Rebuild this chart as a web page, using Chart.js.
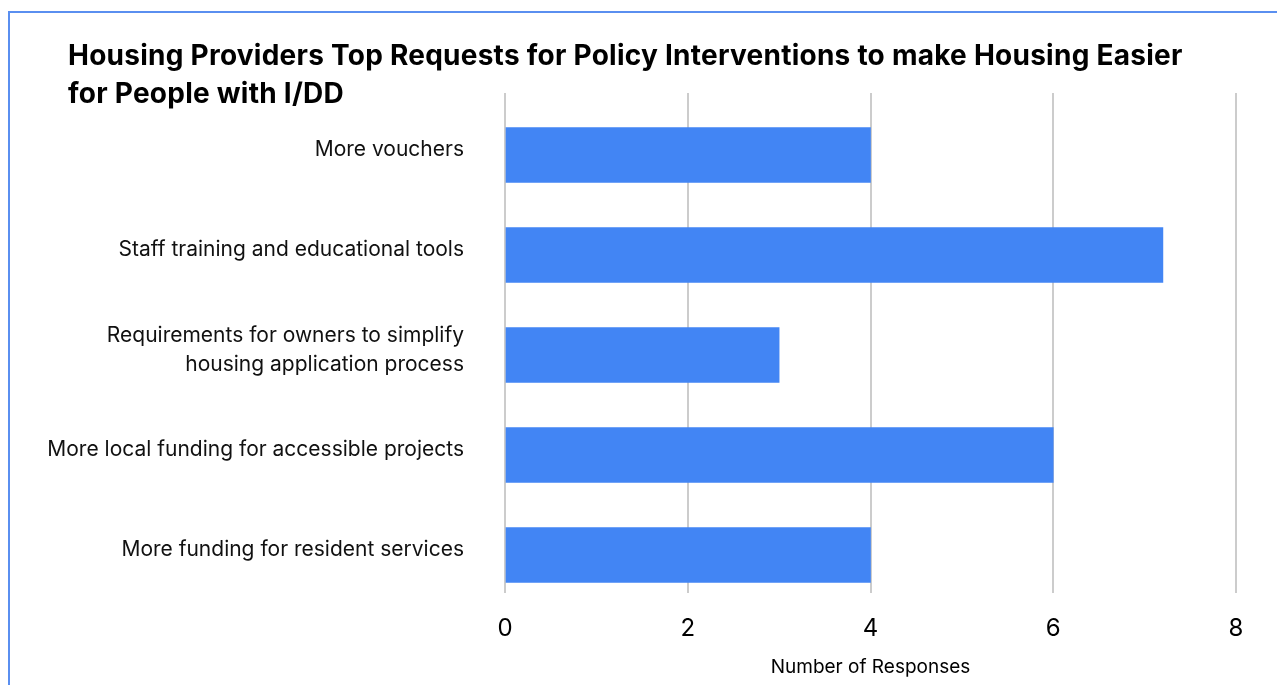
<!DOCTYPE html>
<html>
<head>
<meta charset="utf-8">
<script src="https://cdn.jsdelivr.net/npm/chart.js@4/dist/chart.umd.min.js"></script>
<style>
  html, body { margin: 0; padding: 0; background: #fff; overflow: hidden; }
  #wrap { position: relative; width: 1277px; height: 685px; }
  #frame {
    position: absolute; left: 8px; top: 11px; width: 1300px; height: 700px;
    border-left: 2px solid #5a8ff0; border-top: 2px solid #5a8ff0;
  }
  #title {
    position: absolute; left: 68px; top: 36px;
    font-family: Inter, "Liberation Sans", sans-serif; font-weight: 700;
    font-size: 28px; line-height: 38px; letter-spacing: 0.25px; color: #000;
    white-space: nowrap;
  }
  canvas { position: absolute; left: 0; top: 0; }
</style>
</head>
<body>
<div id="wrap">
  <div id="frame"></div>
  <canvas id="c" width="1277" height="685"></canvas>
  <div id="title">Housing Providers Top Requests for Policy Interventions to make Housing Easier<br>for People with I/DD</div>
</div>
<script>
// Survey answers: one entry per requested policy intervention
const categories = [
  'More vouchers',
  'Staff training and educational tools',
  'Requirements for owners to simplify\nhousing application process',
  'More local funding for accessible projects',
  'More funding for resident services'
];
const responses = [4, 7.2, 3, 6, 4];
const xTicks = [0, 2, 4, 6, 8];
const xAxisTitle = 'Number of Responses';

const FONT = 'Inter, "Liberation Sans", sans-serif';

new Chart(document.getElementById('c'), {
  type: 'bar',
  data: {
    datasets: [{
      data: responses.map((v, i) => ({ x: v, y: i })),
      backgroundColor: '#4285f4',
      borderWidth: 0,
      barThickness: 55
    }]
  },
  options: {
    indexAxis: 'y',
    responsive: false,
    animation: false,
    layout: { padding: { top: 93, right: 41, left: 0, bottom: 0 } },
    plugins: { legend: { display: false }, tooltip: { enabled: false } },
    scales: {
      x: {
        type: 'linear',
        bounds: 'data',
        min: xTicks[0],
        max: xTicks[xTicks.length - 1],
        afterBuildTicks(scale) { scale.ticks = xTicks.map(v => ({ value: v })); },
        afterFit(scale) { scale.height = 92; },
        grid: { color: '#cccccc', lineWidth: 2, drawTicks: false },
        border: { display: false },
        ticks: { color: '#000', padding: 21, font: { family: FONT, size: 24 } },
        title: {
          display: true, text: xAxisTitle, color: '#000',
          font: { family: FONT, size: 19 }, padding: { top: 0, bottom: 6 }
        }
      },
      y: {
        type: 'linear',
        bounds: 'data',
        reverse: true,
        offset: false,
        min: -0.62,
        max: categories.length - 0.62,
        afterBuildTicks(scale) { scale.ticks = categories.map((c, i) => ({ value: i })); },
        afterFit(scale) { scale.width = 505; },
        grid: { display: false },
        border: { display: false },
        ticks: {
          padding: 33,
          labelOffset: -5,
          color: '#111',
          font: { family: FONT, size: 21, lineHeight: 1.38 },
          callback: (v, i) => categories[i] !== undefined ? categories[i].split('\n') : ''
        }
      }
    }
  }
});
</script>
</body>
</html>
